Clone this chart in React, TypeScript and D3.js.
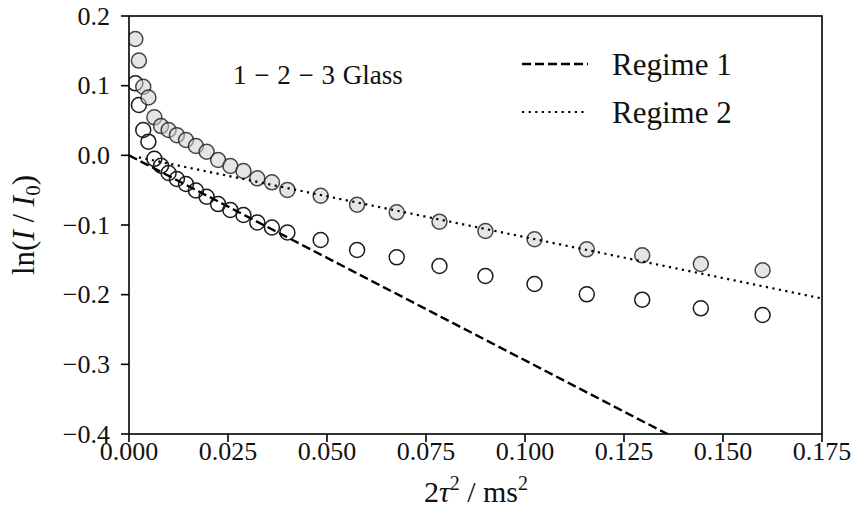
import React from "react";
import * as d3 from "d3";

// x values: 2τ² (ms²)
const xValues = [
  0.0016, 0.0025, 0.0036, 0.0049, 0.0064, 0.0081, 0.01, 0.0121, 0.0144, 0.0169,
  0.0196, 0.0225, 0.0256, 0.0289, 0.0324, 0.0361, 0.04,
  0.0484, 0.0576, 0.0676, 0.0784, 0.09, 0.1024, 0.1156, 0.1296, 0.1444, 0.16,
];
// filled (grey) series ln(I/I0)
const greyValues = [
  0.167, 0.136, 0.0985, 0.083, 0.0546, 0.042, 0.0364, 0.029, 0.022, 0.0134,
  0.0052, -0.0067, -0.0153, -0.0225, -0.033, -0.0387, -0.0497,
  -0.058, -0.0709, -0.0818, -0.0952, -0.1086, -0.1205, -0.1349, -0.1435, -0.156, -0.165,
];
// open series ln(I/I0)
const openValues = [
  0.1034, 0.0723, 0.0364, 0.0196, -0.005, -0.015, -0.0253, -0.034, -0.0411, -0.0505,
  -0.0594, -0.07, -0.0785, -0.0856, -0.0964, -0.1036, -0.1108,
  -0.1215, -0.1359, -0.1464, -0.1588, -0.1732, -0.1847, -0.1995, -0.2072, -0.2196, -0.2292,
];
// fit lines [x, y] endpoints
const regime1 = [[0, 0], [0.175, -0.515]];
const regime2 = [[0.0025, -0.003], [0.175, -0.2055]];

const xTicks = [0, 0.025, 0.05, 0.075, 0.1, 0.125, 0.15, 0.175];
const yTicks = [0.2, 0.1, 0.0, -0.1, -0.2, -0.3, -0.4];

const W = 854, H = 521;
const L = 129, R = 822, T = 16, B = 434;
const FONT = "'Liberation Serif', 'Times New Roman', serif";

export default function App() {
  const x = d3.scaleLinear().domain([0, 0.175]).range([L, R]);
  const y = d3.scaleLinear().domain([-0.4, 0.2]).range([B, T]);
  const line = d3.line<number[]>().x((d) => x(d[0])).y((d) => y(d[1]));
  const fmtY = (v: number) => (v < 0 ? "\u2212" : "") + Math.abs(v).toFixed(1);
  const fmtX = (v: number) => v.toFixed(3);
  const r = 7.5;

  return (
    <svg width={W} height={H} style={{ position: "absolute", left: 0, top: 0, background: "#fff" }}
      fontFamily={FONT}>
      <defs>
        <clipPath id="plot">
          <rect x={L} y={T} width={R - L} height={B - T} />
        </clipPath>
      </defs>
      <g clipPath="url(#plot)">
        {xValues.map((xv, i) => (
          <circle key={"o" + i} cx={x(xv)} cy={y(openValues[i])} r={r}
            fill="none" stroke="#1a1a1a" strokeWidth={1.5} />
        ))}
        {xValues.map((xv, i) => (
          <circle key={"g" + i} cx={x(xv)} cy={y(greyValues[i])} r={r}
            fill="#cfcfcf" fillOpacity={0.55} stroke="#1a1a1a" strokeOpacity={0.8} strokeWidth={1.5} />
        ))}
        <path d={line(regime1) || ""} fill="none" stroke="#000" strokeWidth={2.4} strokeDasharray="9 4" />
        <path d={line(regime2) || ""} fill="none" stroke="#000" strokeWidth={2.2} strokeDasharray="2.2 4.4" />
      </g>
      {/* frame */}
      <rect x={L} y={T} width={R - L} height={B - T} fill="none" stroke="#000" strokeWidth={1.6} />
      {/* x ticks */}
      {xTicks.map((t) => (
        <g key={"xt" + t}>
          <line x1={x(t)} x2={x(t)} y1={B} y2={B + 8} stroke="#000" strokeWidth={1.6} />
          <text x={x(t)} y={B + 26} textAnchor="middle" fontSize={26} fill="#111">{fmtX(t)}</text>
        </g>
      ))}
      {yTicks.map((t) => (
        <g key={"yt" + t}>
          <line x1={L - 8} x2={L} y1={y(t)} y2={y(t)} stroke="#000" strokeWidth={1.6} />
          <text x={L - 19} y={y(t) + 8.5} textAnchor="end" fontSize={26} fill="#111">{fmtY(t)}</text>
        </g>
      ))}
      {/* axis labels */}
      <text x={476} y={502} textAnchor="middle" fontSize={30} fill="#111">
        2<tspan fontStyle="italic">τ</tspan><tspan fontSize={20} dy={-12}>2</tspan>
        <tspan dy={12}> / ms</tspan><tspan fontSize={20} dy={-12}>2</tspan>
      </text>
      <text transform={`translate(34,${(T + B) / 2}) rotate(-90)`} textAnchor="middle" fontSize={31} fill="#111">
        ln(<tspan fontStyle="italic">I</tspan> / <tspan fontStyle="italic">I</tspan><tspan fontSize={21} dy={6}>0</tspan><tspan dy={-6}>)</tspan>
      </text>
      {/* annotation */}
      <text x={233} y={84} fontSize={27} fill="#111" wordSpacing={1}>1 − 2 − 3 Glass</text>
      {/* legend */}
      <line x1={522} x2={588} y1={64} y2={64} stroke="#000" strokeWidth={2.4} strokeDasharray="9 4" />
      <text x={612} y={75} fontSize={31} fill="#111">Regime 1</text>
      <line x1={522} x2={588} y1={112} y2={112} stroke="#000" strokeWidth={2.2} strokeDasharray="2.2 4.4" />
      <text x={612} y={123} fontSize={31} fill="#111">Regime 2</text>
    </svg>
  );
}
